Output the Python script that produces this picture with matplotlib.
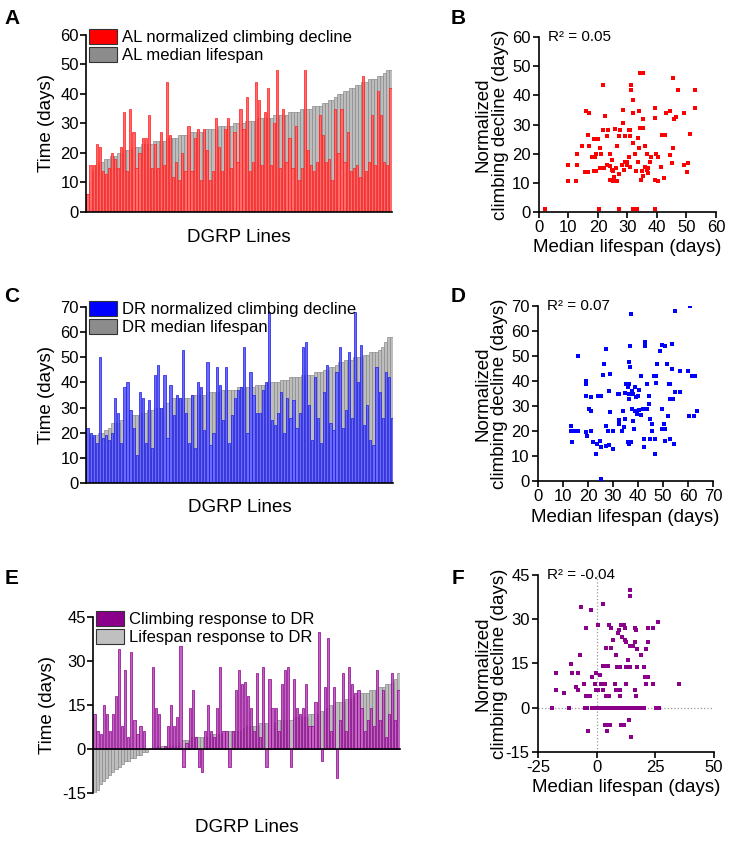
import matplotlib
matplotlib.use("Agg")
import matplotlib.pyplot as plt
from matplotlib.patches import Patch
import numpy as np

plt.rcParams["font.family"] = ["Liberation Sans", "DejaVu Sans"]
plt.rcParams["axes.unicode_minus"] = False

# ---- panel A: AL lines, sorted by median lifespan ----
al_lifespan = [
    6, 10, 14, 16, 17, 17, 18, 18, 19, 19,
    20, 20, 21, 21, 21, 22, 22, 22, 23, 23,
    23, 23, 24, 24, 24, 24, 25, 25, 25, 25,
    26, 26, 26, 26, 27, 27, 27, 27, 27, 28,
    28, 28, 28, 29, 29, 29, 29, 29, 30, 30,
    30, 30, 31, 31, 31, 31, 32, 32, 32, 32,
    32, 33, 33, 33, 33, 33, 34, 34, 34, 34,
    35, 35, 35, 35, 36, 36, 36, 37, 37, 38,
    38, 39, 40, 40, 41, 41, 42, 42, 43, 43,
    44, 44, 45, 45, 45, 46, 46, 47, 48, 48,
]
al_climbing = [
    6, 16, 16, 23, 22, 14, 13, 15, 20, 18,
    15, 22, 34, 14, 35, 27, 15, 20, 25, 25,
    33, 15, 23, 15, 27, 16, 44, 26, 12, 17,
    11, 20, 14, 29, 14, 25, 28, 11, 28, 21,
    11, 14, 32, 22, 14, 28, 32, 15, 27, 17,
    35, 28, 39, 14, 17, 44, 38, 16, 34, 42,
    16, 30, 48, 15, 35, 17, 25, 15, 29, 11,
    15, 48, 21, 16, 14, 17, 33, 26, 17, 18,
    11, 35, 20, 35, 17, 27, 14, 15, 16, 12,
    46, 14, 17, 33, 16, 41, 33, 17, 16, 42,
]

# ---- panel B: AL scatter (lifespan, climbing decline) ----
al_points = [
    (2, 1), (10, 10.5), (12.6, 10.5), (9.7, 16), (13, 16), (13, 20), (14.5, 22.5),
    (15.6, 13.6), (16.7, 13.6), (16, 34.5), (17, 34), (16.5, 26.5), (17, 22.5),
    (17.9, 19), (19, 19), (18.5, 14), (19.5, 14), (20.7, 15), (18.8, 25), (20, 25),
    (20.7, 22), (21, 20), (19.3, 20), (20.5, 1), (21.6, 43.7), (22.4, 33), (21.6, 28),
    (23, 26), (23.5, 28), (24, 20), (24.7, 18), (24, 15.7), (24.7, 14.5), (25.3, 12),
    (25.8, 10.5), (25, 10.5), (26.4, 10.5), (27, 1), (25.8, 28.6), (27, 26),
    (26.4, 22.5), (27.5, 28), (28.4, 35), (28.4, 30.5), (28.8, 14.5), (29.8, 17),
    (30.4, 19), (31, 15.6), (30.4, 28), (31, 26), (31.3, 43.6), (31.3, 42),
    (31.8, 38.5), (32, 34), (32, 23.6), (32.6, 20), (32, 1), (33.2, 1), (33.4, 25.3),
    (33.7, 17), (34.3, 47.6), (35.2, 47.6), (34, 34.5), (34.3, 28.8), (35.4, 28.8),
    (35.2, 32), (36, 22.5), (36.6, 20), (34.5, 11), (35.2, 12.2), (35.8, 15.6),
    (36.6, 14.5), (37, 13.3), (37.7, 17), (39.2, 35.6), (39.4, 32.2), (39.7, 20),
    (40.5, 19), (39.4, 11), (40.2, 10.8), (39.4, 1), (41.4, 15.6), (41.8, 26.5),
    (42.6, 26.5), (42.5, 11.6), (42.9, 33.8), (44.3, 34.8), (44.3, 19.6), (45, 16.8),
    (45.4, 46), (45.9, 32), (46.5, 32.6), (47, 41.7), (45.6, 22), (49.3, 33.8),
    (49.3, 16), (50.2, 13.7), (50.4, 16.8), (51.3, 26.8), (53, 41.7), (53, 35.6),
    (23, 16), (22, 15), (28, 16), (29, 17), (30, 16), (33, 14), (35, 14), (37, 15),
    (38, 19), (27, 13), (26, 15), (24, 11), (25, 14), (31, 28), (29, 26), (34, 22),
]

# ---- panel C: DR lines, sorted by median lifespan ----
dr_lifespan = [
    20, 19, 18, 19, 20, 20, 21, 22, 24, 24,
    24, 25, 25, 26, 26, 27, 27, 27, 28, 28,
    29, 29, 30, 30, 30, 31, 32, 33, 34, 34,
    34, 34, 34, 34, 35, 35, 35, 35, 35, 36,
    36, 36, 36, 36, 37, 37, 37, 37, 37, 38,
    38, 38, 38, 38, 38, 39, 39, 39, 39, 40,
    40, 40, 40, 41, 41, 41, 42, 42, 42, 42,
    43, 43, 43, 43, 44, 44, 44, 45, 45, 46,
    46, 47, 48, 48, 49, 49, 49, 50, 50, 50,
    51, 51, 52, 52, 52, 53, 54, 56, 58, 58,
]
dr_climbing = [
    22, 20, 19, 16, 50, 18, 19, 17, 20, 34,
    28, 16, 38, 40, 29, 22, 11, 36, 34, 16,
    33, 14, 43, 47, 30, 43, 18, 39, 27, 35,
    34, 53, 28, 16, 35, 14, 40, 38, 21, 48,
    15, 20, 46, 39, 25, 46, 16, 27, 34, 37,
    38, 54, 20, 44, 35, 28, 28, 37, 40, 68,
    25, 23, 28, 36, 20, 34, 26, 33, 22, 28,
    54, 56, 31, 17, 42, 26, 16, 36, 47, 24,
    21, 44, 54, 22, 29, 52, 26, 68, 40, 55,
    23, 31, 17, 15, 46, 36, 26, 44, 42, 26,
]

# ---- panel D: DR scatter ----
dr_points = [
    (13.2, 22), (13.2, 20), (14.8, 20), (16, 20), (16, 50), (13.5, 15.7), (19, 40),
    (19, 39), (19, 34), (21, 33.5), (20.5, 28.7), (21, 28), (19, 19.5), (19.4, 18),
    (21.3, 20), (21.8, 15.7), (23, 11), (23.7, 14.8), (24.7, 15.9), (25.3, 13.5),
    (24, 34), (25, 34), (25.3, 0.8), (26.3, 47), (26, 42.4), (27.3, 53), (29, 43),
    (28.4, 36), (27.3, 22), (28, 20), (27.3, 14), (28.6, 14.4), (30, 13), (29, 27.5),
    (30, 20), (32, 34.8), (32.6, 34.8), (32.3, 22.8), (32.6, 24.4), (33.7, 20),
    (34.3, 21.5), (35, 25), (34, 28), (35, 35.3), (36, 37.7), (35.3, 38.8), (36.6, 39),
    (36.3, 35), (36.6, 32.8), (36, 15.7), (36.6, 14.8), (37.2, 15.7), (37.2, 67),
    (36.8, 54), (36.6, 47.6), (36.8, 45.5), (37.6, 36), (37.6, 29), (38.3, 21),
    (38, 24), (39, 37.5), (39.2, 33.7), (39.6, 27), (40.5, 28.4), (41.2, 26.4),
    (40.3, 36.4), (41.2, 42), (42.9, 55.7), (42.9, 54), (43.8, 38.7), (42.5, 17),
    (42.3, 13.7), (43.6, 29), (44.5, 34), (44.5, 30.8), (45, 24.7), (45.8, 22.8),
    (45.8, 20), (45, 17), (46.9, 17), (46.9, 11), (46.5, 42), (47.2, 42), (47.2, 39.3),
    (47.8, 47), (49, 52), (49.8, 54.4), (51, 54), (49.8, 29), (50.5, 23), (49.8, 21),
    (51, 21), (51.8, 47), (52.4, 39), (53, 39), (52.2, 26), (53, 33), (54, 33),
    (53.8, 55), (53.8, 45), (51, 16), (53, 17), (54.5, 15), (55, 35.7), (57, 35.7),
    (55, 68), (56.8, 44), (60, 44), (61, 70), (61.7, 42), (63, 42), (60.4, 26),
    (62.4, 26), (63.7, 28), (38, 35), (40, 34), (39, 28), (42, 29),
]

# ---- panel E: response to DR (DR minus AL), sorted by lifespan response ----
lifespan_response = [
    -15, -14, -12, -11, -10, -9, -8, -7, -6, -5,
    -4, -4, -3, -3, -2, -2, -1, -1, 0, 0,
    0, 1, 1, 1, 1, 1, 1, 1, 2, 3,
    3, 3, 4, 4, 4, 4, 4, 4, 5, 5,
    5, 5, 5, 5, 6, 6, 6, 6, 6, 7,
    8, 8, 8, 8, 9, 9, 9, 9, 9, 9,
    10, 10, 10, 10, 10, 11, 11, 11, 11, 11,
    12, 12, 12, 12, 13, 13, 14, 15, 15, 16,
    16, 16, 17, 17, 17, 18, 18, 19, 19, 19,
    20, 20, 20, 21, 21, 22, 22, 23, 24, 26,
]
climbing_response = [
    12, 6, 5, 15, 12, 6, 12, 18, 34, 8,
    27, 4, 33, 10, 5, 8, 6, 0, 0, 28,
    14, 12, 0, 1, 8, 15, 8, 11, 35, -6,
    2, 14, 20, 4, -6, -8, 6, 15, 6, 4,
    14, 28, 6, 6, -6, 6, 20, 27, 22, 23,
    18, 14, 6, 26, 4, 28, -6, 24, 14, 14,
    6, 22, 27, 28, -6, 24, 14, 12, 14, 22,
    8, 8, 16, 40, -4, 21, 38, 6, 21, -10,
    10, 26, 6, 28, 22, 19, 20, 14, 6, 10,
    14, 8, 27, 10, 20, 4, 12, 26, 10, 20,
]

# ---- panel F: response scatter ----
response_points = [
    (-19, 0), (-17.5, 11.7), (-17.2, 6), (-14, 5), (-11.9, 0), (-10.9, 14.8),
    (-10.4, 11.9), (-8, 11.9), (-9, 7), (-8, 6), (-7.2, 17.9), (-6.8, 34), (-5.4, 7.9),
    (-4.4, 27), (-4.4, 4), (-3.7, -7.8), (-2.7, 4), (-2.3, 33), (-1.8, 10.3),
    (-0.4, 11.7), (-0.9, 8), (-0.1, 6), (0.6, 28), (0.6, 6), (2.7, 35), (1.3, 11),
    (2, 8), (2.9, 6), (3.4, 8), (2.7, 14), (3.8, 20.2), (4.1, 14), (4.8, 14), (4.1, 4),
    (5.3, 4), (3.7, -5.9), (4.8, -5.9), (5.5, -5.9), (4.4, -7.8), (5.3, 28), (6.2, 27),
    (6.2, 20.2), (7, 23), (7.7, 8), (8.4, 6), (8.4, 17.9), (8.7, 13.9), (9.1, 25.3),
    (9.4, 26.2), (9.8, 13.9), (9.8, 6), (10.1, 4), (10.5, 28), (10.9, 23.8),
    (10.5, -5.9), (11.5, -5.9), (11.5, 28), (11.9, 27), (11.9, 23), (12.6, 22.4),
    (12.6, 8), (12.4, 13.9), (13.4, 16.2), (13.8, -4), (14.1, 40), (14.3, 37.9),
    (14.1, 21), (15.5, 21), (14.3, 13.9), (14.8, -9.9), (16.2, 27), (16.6, 26.2),
    (16.2, 6), (16.9, 4), (16.2, 22.4), (17.2, 19.8), (17.3, 13.9), (19, 17.9),
    (20.2, 13.9), (20.4, 10.5), (21.1, 10.5), (21.8, 10.5), (20.9, 8), (21.9, 22.4),
    (21.1, 19.8), (21.9, 27), (24, 27), (24, 8), (26.1, 29.2), (25.1, 0), (26.6, 0),
    (35.1, 8), (-5, 0), (-4, 0), (-2, 0), (-1, 0), (0, 0), (1, 0), (2, 0), (3, 0),
    (4, 0), (5, 0), (6, 0), (7, 0), (8, 0), (9, 0), (10, 0), (11, 0), (12, 0),
    (13, 0), (14, 0), (15, 0), (16, 0), (17, 0), (18, 0), (19, 0), (20, 0),
]

RED = "#ff0000"
BLUE = "#0000ff"
PURPLE = "#8b008b"

# fill / edge colour for thin bars (light body, darker outline)
BAR_STYLE = {
    RED: ("#ff6a6a", "#ff1a1a"),
    BLUE: ("#6a6aff", "#1a1ae0"),
    PURPLE: ("#c064c0", "#8b008b"),
}


def bar_panel(ax, lifespan, climbing, color, labels, yticks):
    x = np.arange(len(lifespan))
    ax.bar(x, lifespan, width=1.0, color="#bdbdbd", edgecolor="#8a8a8a", linewidth=0.5)
    face, edge = BAR_STYLE[color]
    ax.bar(x, climbing, width=0.72, color=face, edgecolor=edge, linewidth=0.5)
    ax.set_xlim(-0.5, len(lifespan) - 0.5)
    ax.set_ylim(yticks[0], yticks[-1])
    ax.set_yticks(yticks)
    ax.set_xticks([])
    ax.spines["top"].set_visible(False)
    ax.spines["right"].set_visible(False)
    ax.spines["bottom"].set_position(("data", 0))
    ax.spines["left"].set_linewidth(1.2)
    ax.spines["bottom"].set_linewidth(1.2)
    ax.tick_params(axis="y", labelsize=12, length=4, width=1.2, pad=1)
    handles = [Patch(facecolor=color, edgecolor="#333333", linewidth=0.8),
               Patch(facecolor="#8c8c8c" if color != PURPLE else "#c0c0c0",
                     edgecolor="#333333", linewidth=0.8)]
    ax.legend(handles, labels, loc="upper left", bbox_to_anchor=(0.01, 1.035),
              frameon=False, fontsize=12, handlelength=1.7, handleheight=1.0,
              handletextpad=0.3, labelspacing=0.1, borderaxespad=0.0,
              borderpad=0.0)
    ax.set_ylabel("Time (days)", fontsize=13.5, labelpad=4)


def scatter_panel(ax, points, color, xticks, yticks, r2):
    xs = [p[0] for p in points]
    ys = [p[1] for p in points]
    ax.scatter(xs, ys, marker="s", s=9, color=color, linewidths=0, zorder=3)
    ax.set_xlim(xticks[0], xticks[-1])
    ax.set_ylim(yticks[0], yticks[-1])
    ax.set_xticks(xticks)
    ax.set_yticks(yticks)
    ax.spines["top"].set_visible(False)
    ax.spines["right"].set_visible(False)
    ax.spines["left"].set_linewidth(1.2)
    ax.spines["bottom"].set_linewidth(1.2)
    ax.tick_params(labelsize=12, length=4, width=1.2, pad=2)
    ax.text(0.05, 1.0, r2, transform=ax.transAxes, fontsize=11, va="center", ha="left")
    ax.set_ylabel("Normalized\nclimbing decline (days)", fontsize=13.5,
                  linespacing=1.0)
    ax.yaxis.set_label_coords(-0.17, 0.5)
    ax.set_xlabel("Median lifespan (days)", fontsize=13.5, labelpad=3)


fig = plt.figure(figsize=(7.32, 8.49), dpi=100)

axA = fig.add_axes([0.1175, 0.7503, 0.418, 0.2085])
bar_panel(axA, al_lifespan, al_climbing, RED,
          ["AL normalized climbing decline", "AL median lifespan"],
          [0, 10, 20, 30, 40, 50, 60])

axB = fig.add_axes([0.7363, 0.7503, 0.2418, 0.206])
scatter_panel(axB, al_points, RED, [0, 10, 20, 30, 40, 50, 60],
              [0, 10, 20, 30, 40, 50, 60], "R² = 0.05")

axC = fig.add_axes([0.1175, 0.4311, 0.42, 0.2073])
bar_panel(axC, dr_lifespan, dr_climbing, BLUE,
          ["DR normalized climbing decline", "DR median lifespan"],
          [0, 10, 20, 30, 40, 50, 60, 70])

axD = fig.add_axes([0.735, 0.4334, 0.239, 0.2061])
scatter_panel(axD, dr_points, BLUE, [0, 10, 20, 30, 40, 50, 60, 70],
              [0, 10, 20, 30, 40, 50, 60, 70], "R² = 0.07")

axE = fig.add_axes([0.127, 0.066, 0.4194, 0.2073])
bar_panel(axE, lifespan_response, climbing_response, PURPLE,
          ["Climbing response to DR", "Lifespan response to DR"],
          [-15, 0, 15, 30, 45])

axF = fig.add_axes([0.735, 0.1143, 0.2404, 0.2085])
axF.axhline(0, color="#999999", linestyle=":", linewidth=0.9, zorder=1)
axF.axvline(0, color="#999999", linestyle=":", linewidth=0.9, zorder=1)
scatter_panel(axF, response_points, PURPLE, [-25, 0, 25, 50],
              [-15, 0, 15, 30, 45], "R² = -0.04")

# x labels of the bar panels
for ax, ypix in [(axA, 238), (axC, 508), (axE, 828)]:
    bb = ax.get_position()
    fig.text((bb.x0 + bb.x1) / 2, 1 - ypix / 849, "DGRP Lines",
             fontsize=13.5, ha="center", va="center")

# panel letters
for letter, xp, yp in [("A", 12, 18), ("B", 458, 18), ("C", 12, 296),
                       ("D", 458, 297), ("E", 12, 578), ("F", 458, 578)]:
    fig.text(xp / 732, 1 - yp / 849, letter, fontsize=15, fontweight="bold",
             ha="center", va="center")

fig.savefig("out.png", dpi=100)
